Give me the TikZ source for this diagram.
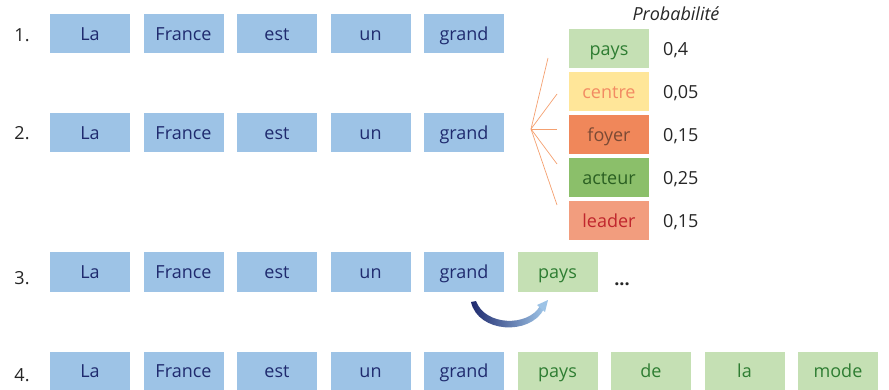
\documentclass[tikz,border=0pt]{standalone}
\usepackage{fontspec}
\setmainfont{Open Sans}
\usetikzlibrary{positioning, calc, arrows.meta}

\definecolor{motbleu}{HTML}{9DC3E6}
\definecolor{textbleu}{HTML}{1F2A6E}
\definecolor{motvert}{HTML}{C5E0B4}
\definecolor{textvert}{HTML}{2E7D32}
\definecolor{jaune}{HTML}{FFE699}
\definecolor{textjaune}{HTML}{F28B63}
\definecolor{orange}{HTML}{F0875A}
\definecolor{textorange}{HTML}{7B4A35}
\definecolor{vertfonce}{HTML}{8BBF6A}
\definecolor{textvertfonce}{HTML}{2A5F22}
\definecolor{saumon}{HTML}{F29D7E}
\definecolor{textsaumon}{HTML}{C0262D}
\definecolor{eventail}{HTML}{F4A070}

\begin{document}
\begin{tikzpicture}[
                x=1pt, y=-1pt,
                every node/.style={font=\fontsize{18}{21}\selectfont, text=black!85},
                mot/.style={rectangle, fill=motbleu, text=textbleu, minimum height=39pt, minimum width=80pt, inner sep=0pt, outer sep=0pt, text height=16.8pt, text depth=4pt},
                suite/.style={mot, fill=motvert, text=textvert},
                valeur/.style={inner sep=0pt, text height=16.8pt, text depth=4pt},
                fanline/.style={draw=eventail, line width=0.7pt},
                node distance=13.5pt
            ]
            \useasboundingbox (0,0) rectangle (889,390);

            % ligne 1
            \node[valeur] (n1) at (22,35) {1.};
            \node[mot] (la1) at (90,34) {La};
            \node[mot, right=of la1] (france1) {France};
            \node[mot, right=of france1] (est1) {est};
            \node[mot, right=of est1] (un1) {un};
            \node[mot, right=of un1] (grand1) {grand};

            % ligne 2
            \node[valeur] (n2) at (22,133) {2.};
            \node[mot] (la2) at (90,133) {La};
            \node[mot, right=of la2] (france2) {France};
            \node[mot, right=of france2] (est2) {est};
            \node[mot, right=of est2] (un2) {un};
            \node[mot, right=of un2] (grand2) {grand};

            % candidats
            \node[valeur, font=\fontsize{18}{21}\selectfont\itshape] (titre) at (676,14) {Probabilité};
            \node[mot, fill=motvert, text=textvert] (pays) at (609,49) {pays};
            \node[mot, fill=jaune, text=textjaune, below=4pt of pays] (centre) {centre};
            \node[mot, fill=orange, text=textorange, below=4pt of centre] (foyer) {foyer};
            \node[mot, fill=vertfonce, text=textvertfonce, below=4pt of foyer] (acteur) {acteur};
            \node[mot, fill=saumon, text=textsaumon, below=4pt of acteur] (leader) {leader};

            \node[valeur, right=14pt of pays] (p1) {0,4};
            \node[valeur, right=14pt of centre] (p2) {0,05};
            \node[valeur, right=14pt of foyer] (p3) {0,15};
            \node[valeur, right=14pt of acteur] (p4) {0,25};
            \node[valeur, right=14pt of leader] (p5) {0,15};

            % eventail
            \coordinate (fan) at (531,129);
            \draw[fanline] (fan) -- ([xshift=-21pt,yshift=-9pt]pays.west);
            \draw[fanline] (fan) -- ([xshift=-12pt,yshift=-2pt]centre.west);
            \draw[fanline] (fan) -- ([xshift=-12pt,yshift=6pt]foyer.west);
            \draw[fanline] (fan) -- ([xshift=-12pt,yshift=14pt]acteur.west);
            \draw[fanline] (fan) -- ([xshift=-12pt,yshift=16pt]leader.west);

            % ligne 3
            \node[valeur] (n3) at (22,278) {3.};
            \node[mot] (la3) at (90,272) {La};
            \node[mot, right=of la3] (france3) {France};
            \node[mot, right=of france3] (est3) {est};
            \node[mot, right=of est3] (un3) {un};
            \node[mot, right=of un3] (grand3) {grand};
            \node[suite, right=of grand3] (pays3) {pays};
            \node[valeur, font=\fontsize{18}{21}\selectfont\bfseries] (points) at (622,279) {...};

            % fleche
            \shade[left color=textbleu, middle color=white!85!motbleu, right color=motbleu]
                (471,302) .. controls (478,333) and (530,336) .. (544,309)
                -- (540,306) .. controls (528,327) and (485,326) .. (476,301) -- cycle;
            \fill[motbleu] (548,300) -- (545,312) -- (537,305) -- cycle;

            % ligne 4
            \node[valeur] (n4) at (22,375) {4.};
            \node[mot] (la4) at (90,371) {La};
            \node[mot, right=of la4] (france4) {France};
            \node[mot, right=of france4] (est4) {est};
            \node[mot, right=of est4] (un4) {un};
            \node[mot, right=of un4] (grand4) {grand};
            \node[suite, right=of grand4] (pays4) {pays};
            \node[suite, right=of pays4] (de4) {de};
            \node[suite, right=of de4] (la4b) {la};
            \node[suite, right=of la4b] (mode4) {mode};

        \end{tikzpicture}
\end{document}
